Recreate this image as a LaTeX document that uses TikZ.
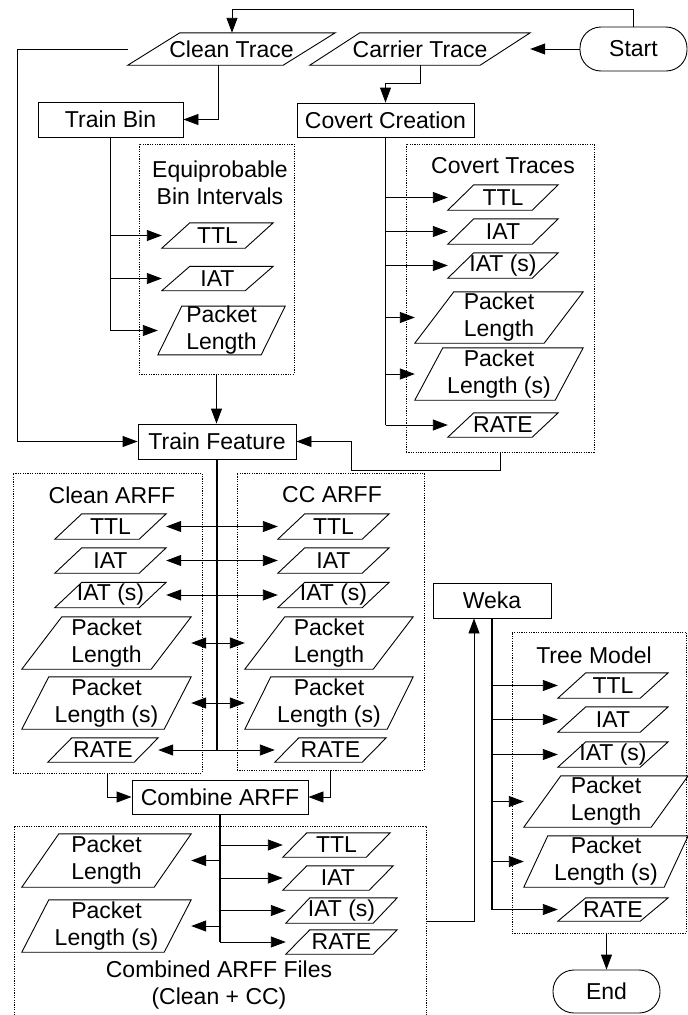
\documentclass[tikz,border=0pt]{standalone}
\usepackage{fontspec}
\setmainfont{Liberation Sans}
\usetikzlibrary{arrows.meta,calc}
\tikzset{
  base/.style={font=\fontsize{23}{27}\selectfont, align=center, inner sep=0pt},
  arr/.style={line width=0.9pt, -{Triangle[length=15pt,width=11pt]}},
  darr/.style={line width=0.9pt, {Triangle[length=15pt,width=11pt]}-{Triangle[length=15pt,width=11pt]}},
  trunk/.style={line width=1.8pt},
  procbox/.style={base, draw, line width=0.9pt, rectangle},
  stad/.style={base, draw, line width=0.9pt, rounded corners=21pt},
  group/.style={draw, line width=0.8pt, dash pattern=on 1.2pt off 1.2pt, rectangle, inner sep=0pt},
  ttl/.style={base},
}
% \para{name}{cx}{cy}{w}{h}{slant}{text}
\newcommand\para[7]{%
  \node[base, minimum width=#4pt, minimum height=#5pt] (#1) at (#2,#3) {#7};
  \draw[line width=0.9pt] (#1.south west) -- ($(#1.south east)+(-#6pt,0pt)$) -- (#1.north east) -- ($(#1.north west)+(#6pt,0pt)$) -- cycle;
}
\begin{document}
\begin{tikzpicture}[x=1pt,y=-1pt]
\useasboundingbox (0,0) rectangle (688,1015);
\fill[white] (0,0) rectangle (688,1015);

% ---- top row
\node[stad, minimum width=107pt, minimum height=44pt] (start) at (633.5,49) {Start};
\para{clean}{231.5}{49}{207}{32}{52}{Clean Trace}
\para{carrier}{420}{49}{220}{32}{50}{Carrier Trace}
\node[procbox, minimum width=145pt, minimum height=35pt] (trainbin) at (110.5,119.5) {Train Bin};
\node[procbox, minimum width=177pt, minimum height=34pt] (covcre) at (385.5,120) {Covert Creation};

% ---- groups
\node[group, minimum width=155pt, minimum height=230pt] (eqbox) at (216.5,259) {};
\node[base] (eqt) at (220,183) {Equiprobable\\Bin Intervals};
\node[group, minimum width=188pt, minimum height=308pt] (ctbox) at (500,298) {};
\node[base] (ctt) at (503,166) {Covert Traces};
\node[group, minimum width=189pt, minimum height=300pt] (cabox) at (107.5,623) {};
\node[base] (cat) at (112,495) {Clean ARFF};
\node[group, minimum width=187pt, minimum height=297pt] (ccbox) at (330.5,621.5) {};
\node[base] (cct) at (332,495) {CC ARFF};
\node[group, minimum width=412pt, minimum height=200pt] (cmbox) at (220,926) {};
\node[base] (cmt) at (219,985) {Combined ARFF Files\\(Clean + CC)};
\node[group, minimum width=174pt, minimum height=301pt] (tmbox) at (599,782.5) {};
\node[base] (tmt) at (594,655) {Tree Model};

% ---- Equiprobable
\para{ettl}{217.5}{235.5}{111}{25}{28}{TTL}
\para{eiat}{217.5}{278.5}{111}{24}{28}{IAT}
\para{epl}{221.5}{330.5}{127}{47}{24}{Packet\\Length}

% ---- Covert traces
\para{cttl}{503}{197.5}{110}{25}{26}{TTL}
\para{ciat}{503}{231.5}{110}{25}{26}{IAT}
\para{ciats}{503}{265.5}{110}{25}{26}{IAT (s)}
\para{cpl}{499}{317.5}{168}{51}{39}{Packet\\Length}
\para{cpls}{499}{374}{168}{52}{28}{Packet\\Length (s)}
\para{crate}{503}{425}{110}{24}{26}{RATE}

\node[procbox, minimum width=158pt, minimum height=35pt] (trainfeat) at (217,441.5) {Train Feature};

% ---- Clean ARFF
\para{attl}{110.5}{526.5}{111}{25}{27}{TTL}
\para{aiat}{110.5}{560.5}{111}{25}{27}{IAT}
\para{aiats}{110.5}{595}{111}{25}{27}{IAT (s)}
\para{apl}{106.5}{643}{169}{52}{40}{Packet\\Length}
\para{apls}{106.5}{703}{169}{52}{27}{Packet\\Length (s)}
\para{arate}{103}{750}{110}{24}{24}{RATE}

% ---- CC ARFF
\para{bttl}{333.5}{526.5}{111}{25}{27}{TTL}
\para{biat}{333.5}{560.5}{111}{25}{27}{IAT}
\para{biats}{333.5}{595}{111}{25}{27}{IAT (s)}
\para{bpl}{329}{643}{168}{52}{40}{Packet\\Length}
\para{bpls}{329}{703}{168}{52}{26}{Packet\\Length (s)}
\para{brate}{330.5}{750}{111}{24}{24}{RATE}

\node[procbox, minimum width=176pt, minimum height=34pt] (combine) at (220,797) {Combine ARFF};

% ---- Combined
\para{mttl}{336.5}{845}{107}{24}{24}{TTL}
\para{miat}{338}{878}{110}{24}{24}{IAT}
\para{miats}{341.5}{910.5}{111}{25}{24}{IAT (s)}
\para{mrate}{341.5}{942}{111}{24}{24}{RATE}
\para{mpl}{106.5}{860.5}{169}{53}{37}{Packet\\Length}
\para{mpls}{106.5}{926}{169}{52}{27}{Packet\\Length (s)}

\node[procbox, minimum width=118pt, minimum height=35pt] (weka) at (492,600.5) {Weka};

% ---- Tree model
\para{tttl}{613}{685.5}{110}{25}{28}{TTL}
\para{tiat}{613}{719.5}{110}{25}{28}{IAT}
\para{tiats}{613}{754.5}{110}{25}{28}{IAT (s)}
\para{tpl}{606}{801.5}{164}{51}{37}{Packet\\Length}
\para{tpls}{606}{861.5}{164}{51}{24}{Packet\\Length (s)}
\para{trate}{613}{909.5}{110}{23}{28}{RATE}

\node[stad, minimum width=107pt, minimum height=43pt] (end) at (606.5,991.5) {End};

% ---- connectors
\coordinate (loop) at (232,9);
\draw[arr] (start.north) |- (loop) -- (loop |- clean.north);
\draw[arr] (start.west) -- (carrier.east);
\coordinate (lft) at (17,49);
\draw[arr] (clean.west) -- (lft) |- (trainfeat.west);
\draw[arr] ([xshift=-13.5pt]clean.south) |- (trainbin.east);
\draw[arr] (carrier.south) -- ++(0,18) -| (covcre.north);

\draw[trunk] (trainbin.south) -- (trainbin.south |- epl.west);
\foreach \n in {ettl,eiat,epl} \draw[arr] (trainbin.south |- \n.west) -- (\n.west);
\draw[arr] (eqbox.south) -- (eqbox.south |- trainfeat.north);

\draw[trunk] (covcre.south) -- (covcre.south |- crate.west);
\foreach \n in {cttl,ciat,ciats,cpl,cpls,crate} \draw[arr] (covcre.south |- \n.west) -- (\n.west);

\coordinate (ctj) at (351,470);
\draw[arr] (ctbox.south) |- (ctj) |- (trainfeat.east);

\draw[trunk] (trainfeat.south) -- (trainfeat.south |- arate.east);
\draw[darr] (attl.east) -- (bttl.west);
\draw[darr] (aiat.east) -- (biat.west);
\draw[darr] (aiats.east) -- (biats.west);
\draw[darr] (apl.east) -- (bpl.west);
\draw[darr] (apls.east) -- (bpls.west);
\draw[darr] (arate.east) -- (brate.west);

\draw[arr] (cabox.south) |- (combine.west);
\draw[arr] (ccbox.south) |- (combine.east);

\draw[trunk] (combine.south) -- (combine.south |- mrate.west);
\foreach \n in {mttl,miat,miats,mrate} \draw[arr] (combine.south |- \n.west) -- (\n.west);
\foreach \n in {mpl,mpls} \draw[arr] (combine.south |- \n.east) -- (\n.east);

\coordinate (wj) at (474,921);
\draw[arr] (cmbox.east |- wj) -- (wj) -- (wj |- weka.south);

\draw[trunk] (weka.south) -- (weka.south |- trate.west);
\foreach \n in {tttl,tiat,tiats,tpl,tpls,trate} \draw[arr] (weka.south |- \n.west) -- (\n.west);

\draw[arr] (end.north |- tmbox.south) -- (end.north);
\end{tikzpicture}
\end{document}
